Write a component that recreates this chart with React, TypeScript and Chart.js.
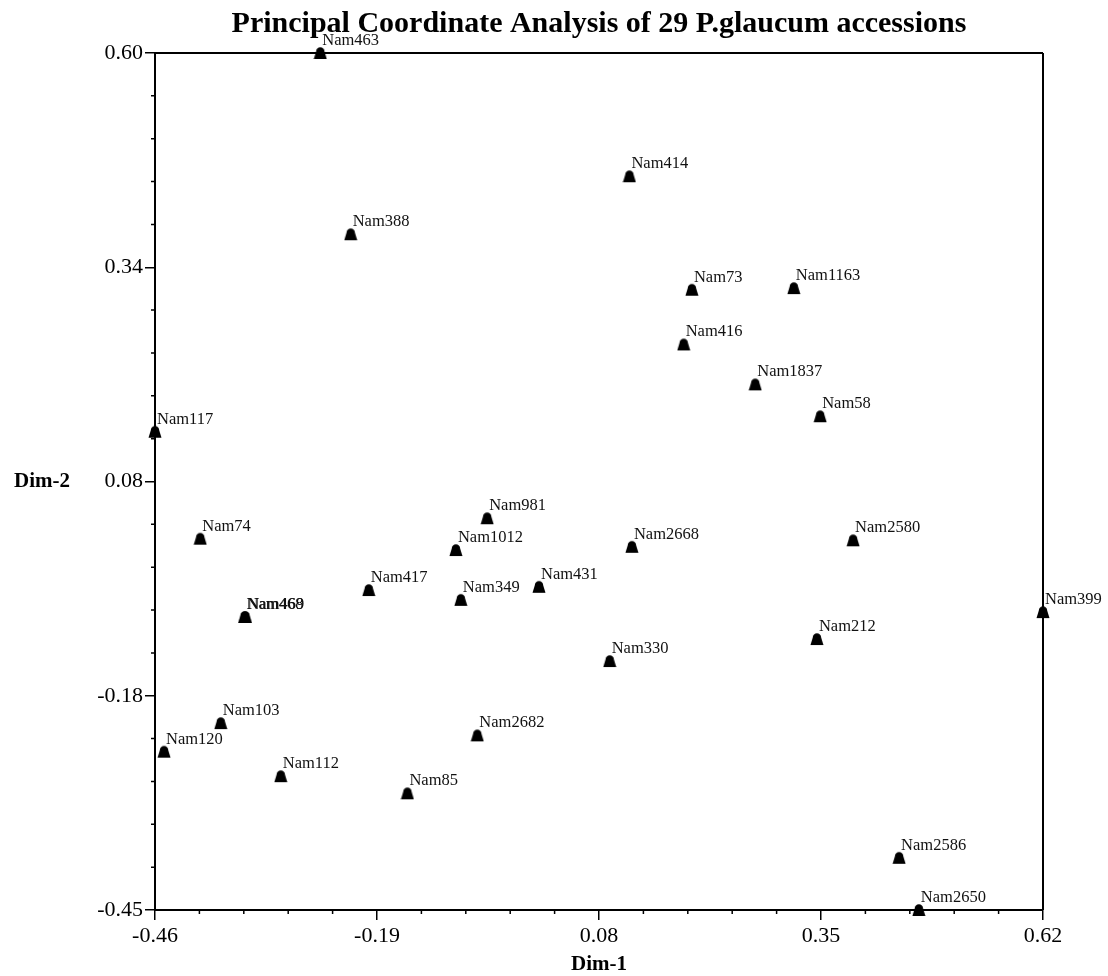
import React, { useEffect, useRef } from "react";
import { Chart, registerables } from "chart.js";

Chart.register(...registerables);

const accessions = [
  "Nam463", "Nam414", "Nam388", "Nam73", "Nam1163", "Nam416", "Nam1837", "Nam58",
  "Nam117", "Nam981", "Nam74", "Nam1012", "Nam2668", "Nam2580", "Nam417", "Nam431",
  "Nam349", "Nam468", "Nam469", "Nam399", "Nam212", "Nam330", "Nam103", "Nam2682",
  "Nam120", "Nam112", "Nam85", "Nam2586", "Nam2650",
];
const dim1 = [
  -0.259, 0.117, -0.222, 0.193, 0.317, 0.183, 0.270, 0.349,
  -0.460, -0.056, -0.405, -0.094, 0.120, 0.389, -0.200, 0.007,
  -0.088, -0.351, -0.350, 0.620, 0.345, 0.093, -0.380, -0.068,
  -0.449, -0.307, -0.153, 0.445, 0.469,
];
const dim2 = [
  0.600, 0.449, 0.378, 0.310, 0.312, 0.243, 0.194, 0.155,
  0.136, 0.030, 0.005, -0.009, -0.005, 0.003, -0.058, -0.054,
  -0.070, -0.091, -0.091, -0.085, -0.118, -0.145, -0.221, -0.236,
  -0.256, -0.286, -0.307, -0.386, -0.450,
];
const xRange = [-0.46, 0.62];
const yRange = [-0.45, 0.6];
const xTickLabels = ["-0.46", "-0.19", "0.08", "0.35", "0.62"];
const yTickLabels = ["-0.45", "-0.18", "0.08", "0.34", "0.60"];
const titleText = "Principal Coordinate Analysis of 29 P.glaucum accessions";
const xTitle = "Dim-1";
const yTitle = "Dim-2";

const SERIF = "'Liberation Serif', 'Times New Roman', Times, serif";

function makeMarker(): HTMLCanvasElement {
  const c = document.createElement("canvas");
  c.width = 14;
  c.height = 14;
  const g = c.getContext("2d")!;
  g.fillStyle = "#000";
  g.beginPath();
  g.moveTo(0.5, 13);
  g.lineTo(13.5, 13);
  g.lineTo(11.2, 5.5);
  g.arc(7, 5.5, 4.2, 0, Math.PI, true);
  g.lineTo(0.5, 13);
  g.closePath();
  g.fill();
  return c;
}

const decorPlugin = {
  id: "decor",
  afterDraw(chart: any) {
    const ctx = chart.ctx;
    const { left, right, top, bottom } = chart.chartArea;
    const xs = chart.scales.x;
    const ys = chart.scales.y;
    ctx.save();
    ctx.strokeStyle = "#000";
    ctx.lineWidth = 2;
    ctx.beginPath();
    ctx.moveTo(left, top);
    ctx.lineTo(right, top);
    ctx.moveTo(right, top);
    ctx.lineTo(right, bottom);
    ctx.stroke();
    ctx.lineWidth = 1.5;
    ctx.beginPath();
    for (let k = 0; k <= 20; k++) {
      if (k % 5 === 0) continue;
      const xv = xRange[0] + (k * (xRange[1] - xRange[0])) / 20;
      const px = xs.getPixelForValue(xv);
      ctx.moveTo(px, bottom);
      ctx.lineTo(px, bottom + 4);
      const yv = yRange[0] + (k * (yRange[1] - yRange[0])) / 20;
      const py = ys.getPixelForValue(yv);
      ctx.moveTo(left, py);
      ctx.lineTo(left - 4, py);
    }
    ctx.stroke();
    ctx.fillStyle = "#000";
    ctx.font = `bold 30px ${SERIF}`;
    ctx.textAlign = "center";
    ctx.textBaseline = "alphabetic";
    ctx.fillText(titleText, (left + right) / 2, 32);
    ctx.font = `bold 21px ${SERIF}`;
    ctx.textBaseline = "middle";
    ctx.fillText(xTitle, (left + right) / 2, 965);
    ctx.textAlign = "left";
    ctx.fillText(yTitle, 14, (top + bottom) / 2);
    ctx.restore();
  },
  afterDatasetsDraw(chart: any) {
    const ctx = chart.ctx;
    const meta = chart.getDatasetMeta(0);
    ctx.save();
    ctx.fillStyle = "#111";
    ctx.font = `16.5px ${SERIF}`;
    ctx.textAlign = "left";
    ctx.textBaseline = "alphabetic";
    meta.data.forEach((pt: any, i: number) => {
      ctx.fillText(accessions[i], pt.x + 2, pt.y - 8);
    });
    ctx.restore();
  },
};

export default function App() {
  const ref = useRef<HTMLCanvasElement | null>(null);
  useEffect(() => {
    if (!ref.current) return;
    const marker = makeMarker();
    const chart = new Chart(ref.current, {
      type: "scatter",
      data: {
        datasets: [
          {
            label: "PCoA",
            data: dim1.map((x, i) => ({ x, y: dim2[i] })),
            pointStyle: marker as any,
            pointRadius: 7,
            clip: false as any,
          },
        ],
      },
      options: {
        responsive: false,
        animation: false,
        layout: { padding: { top: 53, right: 65, left: 0, bottom: 0 } },
        plugins: {
          legend: { display: false },
          tooltip: { enabled: false },
          title: { display: false },
        },
        scales: {
          x: {
            type: "linear",
            min: xRange[0],
            max: xRange[1],
            afterBuildTicks: (scale: any) => {
              scale.ticks = xTickLabels.map((_, i) => ({
                value: xRange[0] + (i * (xRange[1] - xRange[0])) / 4,
              }));
            },
            afterFit: (scale: any) => {
              scale.height = 66;
            },
            ticks: {
              autoSkip: false,
              maxRotation: 0,
              padding: 3,
              color: "#000",
              font: { family: SERIF, size: 22 },
              callback: (_v: any, i: number) => xTickLabels[i],
            },
            grid: {
              drawOnChartArea: false,
              drawTicks: true,
              tickLength: 10,
              color: "#000",
              lineWidth: 1.5,
            },
            border: { display: true, color: "#000", width: 2 },
          },
          y: {
            type: "linear",
            min: yRange[0],
            max: yRange[1],
            afterBuildTicks: (scale: any) => {
              scale.ticks = yTickLabels.map((_, i) => ({
                value: yRange[0] + (i * (yRange[1] - yRange[0])) / 4,
              }));
            },
            afterFit: (scale: any) => {
              scale.width = 155;
            },
            ticks: {
              autoSkip: false,
              padding: 2,
              color: "#000",
              font: { family: SERIF, size: 22 },
              callback: (_v: any, i: number) => yTickLabels[i],
            },
            grid: {
              drawOnChartArea: false,
              drawTicks: true,
              tickLength: 10,
              color: "#000",
              lineWidth: 1.5,
            },
            border: { display: true, color: "#000", width: 2 },
          },
        },
      },
      plugins: [decorPlugin],
    });
    return () => chart.destroy();
  }, []);
  return (
    <div style={{ position: "absolute", left: 0, top: 0, width: 1108, height: 976, background: "#fff" }}>
      <canvas ref={ref} width={1108} height={976} style={{ display: "block" }} />
    </div>
  );
}
